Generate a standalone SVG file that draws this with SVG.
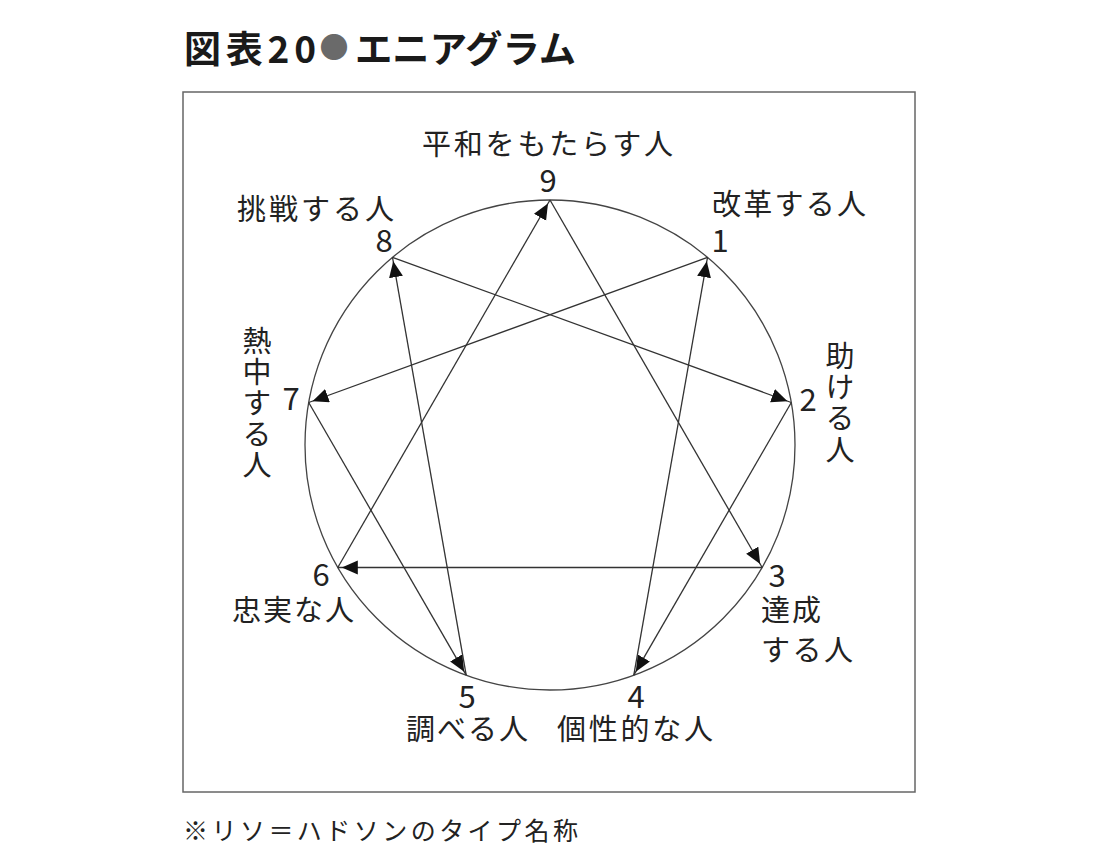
<svg xmlns="http://www.w3.org/2000/svg" width="1108" height="858" viewBox="0 0 1108 858">
  <style>
    .lbl { font-family: "Noto Sans CJK JP", "Noto Sans", sans-serif; font-size: 29px; fill: #222; }
    .vt { writing-mode: vertical-rl; }
    .num { font-family: "Noto Sans CJK JP", "Noto Sans", sans-serif; font-size: 31px; fill: #222; text-anchor: middle; }
    .title { font-family: "Noto Sans CJK JP", "Noto Sans", sans-serif; font-size: 37px; font-weight: 700; fill: #1a1a1a; }
    .note { font-family: "Noto Sans CJK JP", "Noto Sans", sans-serif; font-size: 25px; fill: #222; }
    .conn line { stroke: #333; stroke-width: 1.3; marker-end: url(#ah); }
  </style>
  <defs>
    <marker id="ah" markerUnits="userSpaceOnUse" markerWidth="20" markerHeight="16" viewBox="0 0 20 16" refX="20" refY="7" orient="auto">
      <path d="M0,0 L16,7 L0,14 z" fill="#111"/>
    </marker>
  </defs>
  <rect width="1108" height="858" fill="#fff"/>

  <g id="title">
    <text class="title" x="184" y="63" textLength="132" lengthAdjust="spacing">図表20</text>
    <text class="title" x="334" y="58" text-anchor="middle" style="font-size:29px;fill:#6a6a6a">●</text>
    <text class="title" x="355" y="63" textLength="221" lengthAdjust="spacingAndGlyphs">エニアグラム</text>
  </g>

  <rect id="frame" x="183" y="92" width="732" height="700" fill="none" stroke="#666" stroke-width="1.5"/>

  <circle id="ring" cx="550" cy="445" r="245" fill="none" stroke="#444" stroke-width="1.3"/>

  <g id="connectors" class="conn">
    <line x1="337.8" y1="567.5" x2="550" y2="200"/>
    <line x1="550" y1="200" x2="762.2" y2="567.5"/>
    <line x1="762.2" y1="567.5" x2="337.8" y2="567.5"/>
    <line x1="466.2" y1="675.2" x2="392.5" y2="257.3"/>
    <line x1="392.5" y1="257.3" x2="791.3" y2="402.5"/>
    <line x1="791.3" y1="402.5" x2="633.8" y2="675.2"/>
    <line x1="633.8" y1="675.2" x2="707.5" y2="257.3"/>
    <line x1="707.5" y1="257.3" x2="308.7" y2="402.5"/>
    <line x1="308.7" y1="402.5" x2="466.2" y2="675.2"/>
  </g>

  <g id="node9">
    <text class="lbl" x="422" y="155" textLength="251" lengthAdjust="spacing">平和をもたらす人</text>
    <text class="num" x="548" y="192">9</text>
  </g>
  <g id="node1">
    <text class="lbl" x="712" y="215" textLength="154" lengthAdjust="spacing">改革する人</text>
    <text class="num" x="720" y="252">1</text>
  </g>
  <g id="node2">
    <text class="num" x="808" y="411">2</text>
    <text class="lbl vt" x="840" y="341" textLength="123" lengthAdjust="spacing">助ける人</text>
  </g>
  <g id="node3">
    <text class="num" x="777" y="587">3</text>
    <text class="lbl" x="761" y="621" textLength="60" lengthAdjust="spacing">達成</text>
    <text class="lbl" x="761" y="661" textLength="92" lengthAdjust="spacing">する人</text>
  </g>
  <g id="node4">
    <text class="num" x="636" y="708">4</text>
    <text class="lbl" x="557" y="740" textLength="156" lengthAdjust="spacing">個性的な人</text>
  </g>
  <g id="node5">
    <text class="num" x="467" y="708">5</text>
    <text class="lbl" x="406" y="740" textLength="122" lengthAdjust="spacing">調べる人</text>
  </g>
  <g id="node6">
    <text class="num" x="321" y="586">6</text>
    <text class="lbl" x="232" y="621" textLength="122" lengthAdjust="spacing">忠実な人</text>
  </g>
  <g id="node7">
    <text class="num" x="291" y="410">7</text>
    <text class="lbl vt" x="257" y="326" textLength="153" lengthAdjust="spacing">熱中する人</text>
  </g>
  <g id="node8">
    <text class="lbl" x="237" y="220" textLength="157" lengthAdjust="spacing">挑戦する人</text>
    <text class="num" x="384" y="252">8</text>
  </g>

  <text id="footnote" class="note" x="183" y="840" textLength="395" lengthAdjust="spacing">※リソ＝ハドソンのタイプ名称</text>
</svg>
